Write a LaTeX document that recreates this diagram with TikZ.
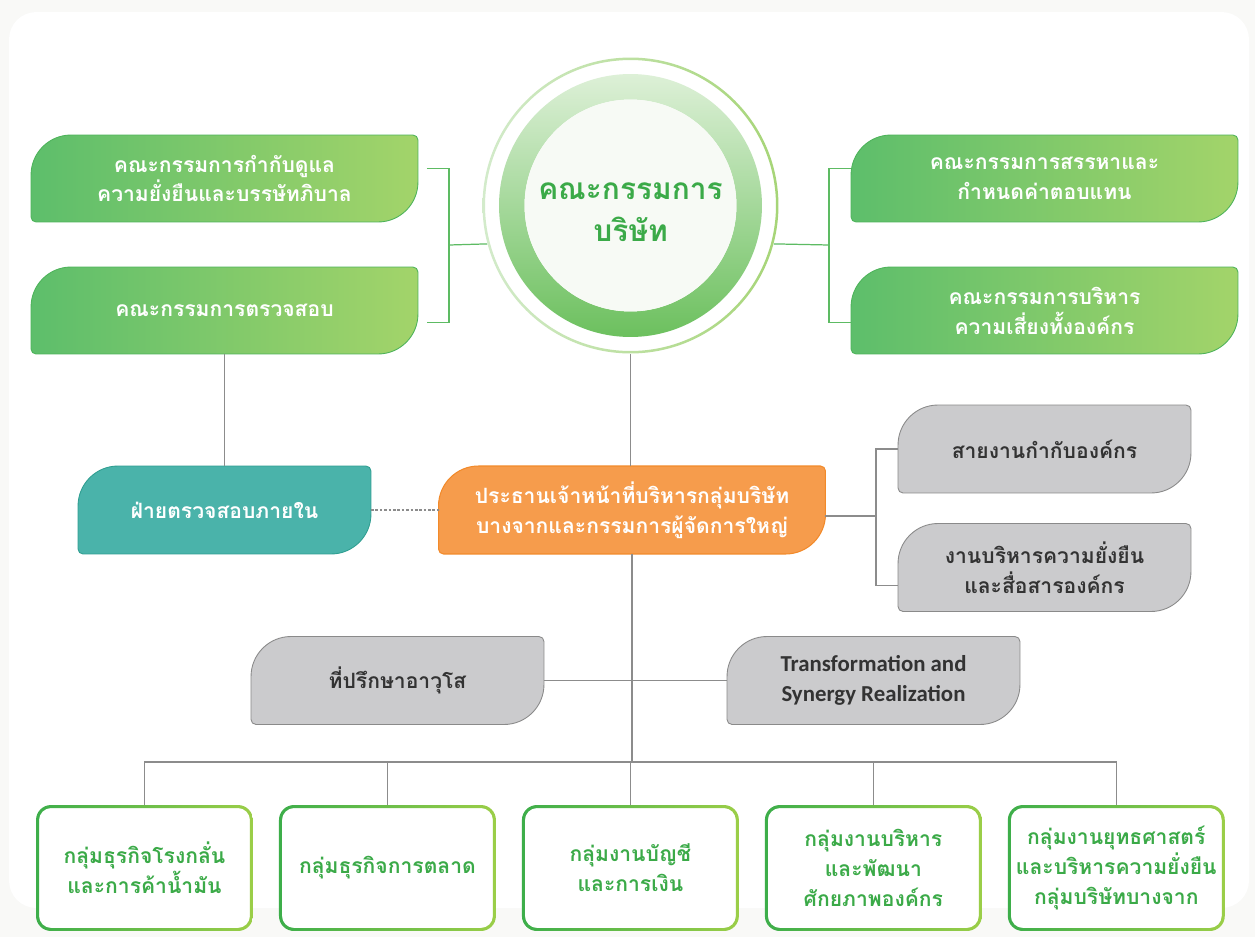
\documentclass[tikz,border=0pt]{standalone}
\usepackage{fontspec}
\setmainfont[Script=Thai]{Loma}
\newfontfamily\latinfont{Carlito}
\usetikzlibrary{positioning,calc,backgrounds}

\definecolor{pagebg}{HTML}{F9F9F7}
\definecolor{grL}{HTML}{5DBE6B}
\definecolor{grR}{HTML}{A3D46A}
\definecolor{grEdge}{HTML}{4DB35A}
\definecolor{iaFill}{HTML}{4AB3AA}
\definecolor{iaEdge}{HTML}{2F9E91}
\definecolor{ceoFill}{HTML}{F69C4C}
\definecolor{ceoEdge}{HTML}{F28A2A}
\definecolor{greyFill}{HTML}{CBCBCD}
\definecolor{greyEdge}{HTML}{8A8A8A}
\definecolor{greyText}{HTML}{333333}
\definecolor{unitL}{HTML}{3DAE4A}
\definecolor{unitR}{HTML}{9BCE48}
\definecolor{unitText}{HTML}{3BAA48}
\definecolor{lineGrey}{HTML}{8C8C8C}
\definecolor{lineGreen}{HTML}{5DBB63}
\definecolor{ringT}{HTML}{DDF0D7}
\definecolor{ringB}{HTML}{6CC05E}
\definecolor{haloL}{HTML}{D3EBCB}
\definecolor{haloR}{HTML}{A6D577}
\definecolor{core}{HTML}{F7FAF5}

\newcommand\boxfont{\fontsize{12}{17}\selectfont\bfseries}
\newcommand\leafR{0.8cm}
\newcommand\leafr{0.1cm}

% leaf shaped box round a named node
\newcommand\leaf[2]{%
  \path[#2] ([yshift=-\leafR]#1.north west) arc[start angle=180,end angle=90,radius=\leafR]
    -- ([xshift=-\leafr]#1.north east) arc[start angle=90,end angle=0,radius=\leafr]
    -- ([yshift=\leafR]#1.south east) arc[start angle=0,end angle=-90,radius=\leafR]
    -- ([xshift=\leafr]#1.south west) arc[start angle=270,end angle=180,radius=\leafr]
    -- cycle;}

% white box with a green frame
\newcommand\unitframe[1]{%
  \path[fill=white, rounded corners=0.3cm] (#1.south west) rectangle (#1.north east);
  \path[even odd rule, left color=unitL, right color=unitR, rounded corners=0.3cm]
    (#1.south west) rectangle (#1.north east)
    [rounded corners=0.24cm] ([shift={(0.06cm,0.06cm)}]#1.south west) rectangle ([shift={(-0.06cm,-0.06cm)}]#1.north east);}

\tikzset{
  box/.style={minimum width=5.86cm, minimum height=1.76cm, inner sep=0pt, outer sep=0pt,
    align=center, font=\boxfont},
  widebox/.style={box, minimum width=7.74cm, minimum height=1.74cm},
  unit/.style={box, minimum width=4.34cm, minimum height=2.52cm, text=unitText},
  greenleaf/.style={draw=grEdge, line width=0.5pt, left color=grL, right color=grR},
  link/.style={draw=lineGrey, line width=0.6pt},
  glink/.style={draw=lineGreen, line width=0.7pt},
}

\begin{document}
\begin{tikzpicture}[x=0.02cm, y=-0.02cm, node distance=4.86cm]
	\useasboundingbox (0,0) rectangle (1255,937);

	% Nodes
	\node [circle, minimum size=5.92cm, inner sep=0pt] (board) at (630.5,205.5) {};
	\node [align=center, text=unitText, font=\fontsize{17}{24}\selectfont\bfseries]
		(boardname) at ($(board.center)+(0,7)$) {คณะกรรมการ\\บริษัท};
	\node [widebox, text=white] (gov)   at (224.5,178.5)  {คณะกรรมการกำกับดูแล\\ความยั่งยืนและบรรษัทภิบาล};
	\node [widebox, text=white] (audit) at (224.5,310.5)  {คณะกรรมการตรวจสอบ};
	\node [widebox, text=white] (nom)   at (1044.5,178.5) {คณะกรรมการสรรหาและ\\กำหนดค่าตอบแทน};
	\node [widebox, text=white] (risk)  at (1044.5,310.5) {คณะกรรมการบริหาร\\ความเสี่ยงทั้งองค์กร};

	\node [box, text=white]     (ia)  at (224.5,510) {ฝ่ายตรวจสอบภายใน};
	\node [widebox, text=white, minimum height=1.76cm] (ceo) at (632,510)
		{ประธานเจ้าหน้าที่บริหารกลุ่มบริษัท\\บางจากและกรรมการผู้จัดการใหญ่};
	\node [box, text=greyText]  (cg)  at (1044.5,449)   {สายงานกำกับองค์กร};
	\node [box, text=greyText]  (sus) at (1044.5,567.5) {งานบริหารความยั่งยืน\\และสื่อสารองค์กร};
	\node [box, text=greyText]  (adv) at (397.5,680.5)  {ที่ปรึกษาอาวุโส};
	\node [box, text=greyText, font=\latinfont\fontsize{13}{17}\selectfont\bfseries]
		(tsr) at (873.5,680.5)  {Transformation and\\Synergy Realization};

	\node [unit] (u1) at (144.5,868) {กลุ่มธุรกิจโรงกลั่น\\และการค้าน้ำมัน};
	\node [unit] (u2) [right of=u1]  {กลุ่มธุรกิจการตลาด};
	\node [unit] (u3) [right of=u2]  {กลุ่มงานบัญชี\\และการเงิน};
	\node [unit] (u4) [right of=u3]  {กลุ่มงานบริหาร\\และพัฒนา\\ศักยภาพองค์กร};
	\node [unit] (u5) [right of=u4]  {กลุ่มงานยุทธศาสตร์\\และบริหารความยั่งยืน\\กลุ่มบริษัทบางจาก};

	% Shapes
	\begin{scope}[on background layer]
		\fill [pagebg] (0,0) rectangle (1255,937);
		\fill [white, rounded corners=0.55cm] (9,12) rectangle (1249,908);

		\shade [even odd rule, left color=haloL, right color=haloR]
			(board.center) circle (2.96cm) circle (2.91cm);
		\shade [even odd rule, top color=ringT, bottom color=ringB]
			(board.center) circle (2.63cm) circle (2.12cm);
		\fill [core] (board.center) circle (2.12cm);

		\foreach \b in {gov,audit,nom,risk} {\leaf{\b}{greenleaf}}
		\leaf{ia}{draw=iaEdge, line width=0.5pt, fill=iaFill}
		\leaf{ceo}{draw=ceoEdge, line width=0.6pt, fill=ceoFill}
		\foreach \b in {cg,sus,adv,tsr} {\leaf{\b}{draw=greyEdge, line width=0.5pt, fill=greyFill}}
		\foreach \u in {u1,u2,u3,u4,u5} {\unitframe{\u}}
	\end{scope}

	% Paths
	\coordinate (jl) at (449,245);
	\coordinate (jr) at (829,245);
	\draw [glink] (board.195) -- (jl);
	\draw [glink] ($(gov.east)+(9,-10)$) -| (jl) |- ($(audit.east)+(9,12)$);
	\draw [glink] (board.345) -- (jr);
	\draw [glink] ($(nom.west)+(0,-10)$) -| (jr) |- ($(risk.west)+(0,12)$);

	\draw [link] (board.south) -- (board.south |- ceo.north);
	\draw [link] (audit.south) -- (ia.north);
	\draw [link, dash pattern=on 1.5pt off 1pt] (ia.east) -- (ceo.west);

	\coordinate (jc) at (876,516);
	\draw [link] ($(ceo.east)+(0,6)$) -- (jc);
	\draw [link] (cg.west) -| (jc) |- ($(sus.west)+(0,18)$);

	\coordinate (bus) at (632,762);
	\draw [link] (ceo.south) -- (bus);
	\draw [link] (adv.east) -- (tsr.west);
	\draw [link] (u1.north) |- (bus) -| (u5.north);
	\foreach \u in {u2,u3,u4} \draw [link] (\u.north) -- (\u.north |- bus);

\end{tikzpicture}
\end{document}
